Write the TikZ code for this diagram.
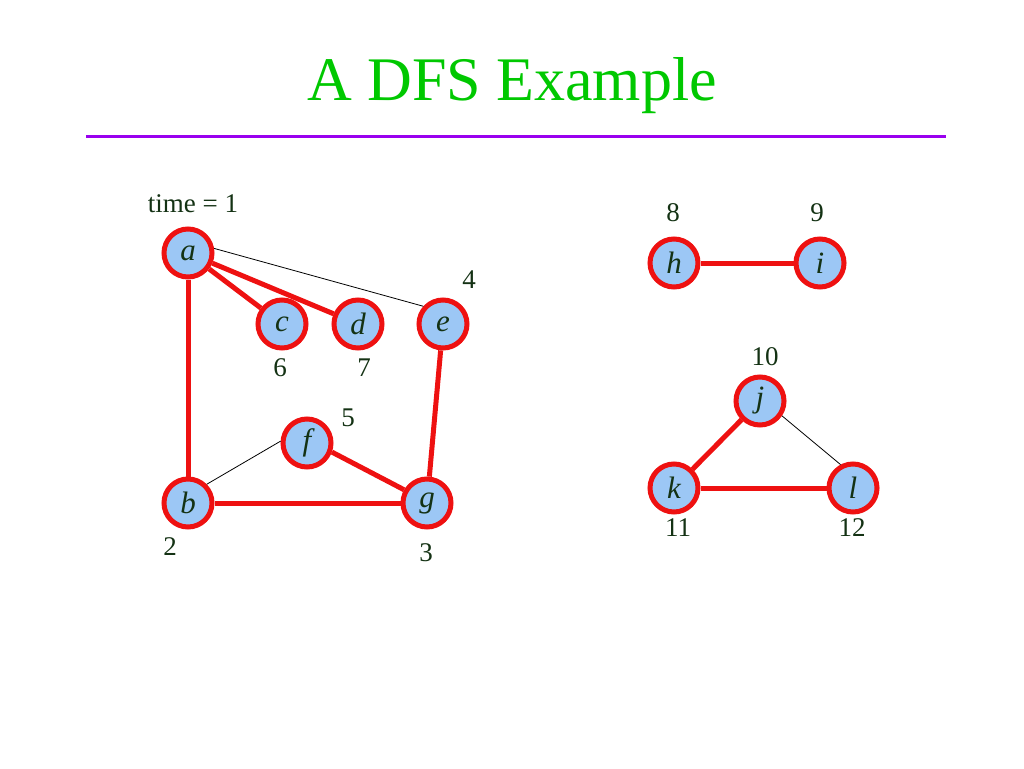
\documentclass[tikz,border=0pt]{standalone}
\usepackage{fontspec}
\setmainfont{Liberation Serif}
\usetikzlibrary{positioning, arrows.meta}
\definecolor{titlegreen}{RGB}{0,200,0}
\definecolor{rulepurple}{RGB}{153,0,238}
\definecolor{vred}{RGB}{238,17,17}
\definecolor{vblue}{RGB}{156,199,245}
\definecolor{numgreen}{RGB}{20,50,20}

\begin{document}
\begin{tikzpicture}[
	x=1pt, y=-1pt,
	vertex/.style={circle, draw=vred, line width=5pt, fill=vblue, inner sep=0pt, minimum size=48pt, text=numgreen, font=\fontsize{31}{33}\selectfont\itshape},
	stamp/.style={text=numgreen, inner sep=0pt, font=\fontsize{27}{29}\selectfont},
	tree/.style={vred, line width=5pt},
	back/.style={black, line width=0.8pt},
	>=LaTeX
]
\useasboundingbox (0,0) rectangle (1024,768);

% title
\node[text=titlegreen, font=\fontsize{62}{64}\selectfont] (title) at (512,86) {A DFS Example};
\coordinate (rule_l) at (86,136);
\coordinate (rule_r) at (946,136);
\draw[rulepurple, line width=3pt] (rule_l) -- (rule_r);

% first component
\node[vertex] (a) at (188,253) {a};
\node[vertex] (c) at (282,324) {c};
\node[vertex] (d) at (358,324) {d};
\node[vertex] (e) at (443,324) {e};
\node[vertex] (f) at (307,443) {f};
\node[vertex] (b) at (188,503) {b};
\node[vertex] (g) at (427,503) {g};

% second component
\node[vertex] (h) at (674,263) {h};
\node[vertex] (i) at (820,263) {i};
\node[vertex] (j) at (760,401) {j};
\node[vertex] (k) at (674,488) {k};
\node[vertex] (l) at (853,488) {l};

% discovery times
\node[stamp] (time_a) at (193,204) {time = 1};
\node[stamp] (time_b) at (170,547) {2};
\node[stamp] (time_g) at (426,553) {3};
\node[stamp] (time_e) at (469,280) {4};
\node[stamp] (time_f) at (348,418) {5};
\node[stamp] (time_c) at (280,368) {6};
\node[stamp] (time_d) at (364,368) {7};
\node[stamp] (time_h) at (673,213) {8};
\node[stamp] (time_i) at (817,213) {9};
\node[stamp] (time_j) at (765,357) {10};
\node[stamp] (time_k) at (678,528) {11};
\node[stamp] (time_l) at (852,528) {12};

% back edges
\draw[back] (a.10) -- (e.138);
\draw[back] (f.176) -- (b.45);
\draw[back] (j.-34) -- (l.118);

% tree edges
\draw[tree] (a) -- (b);
\draw[tree] (a) -- (c);
\draw[tree] (a) -- (d);
\draw[tree] (e) -- (g);
\draw[tree] (f.-20) -- (g.150);
\draw[tree] (b) -- (g);
\draw[tree] (h) -- (i);
\draw[tree] (j) -- (k);
\draw[tree] (k) -- (l);
\end{tikzpicture}
\end{document}
